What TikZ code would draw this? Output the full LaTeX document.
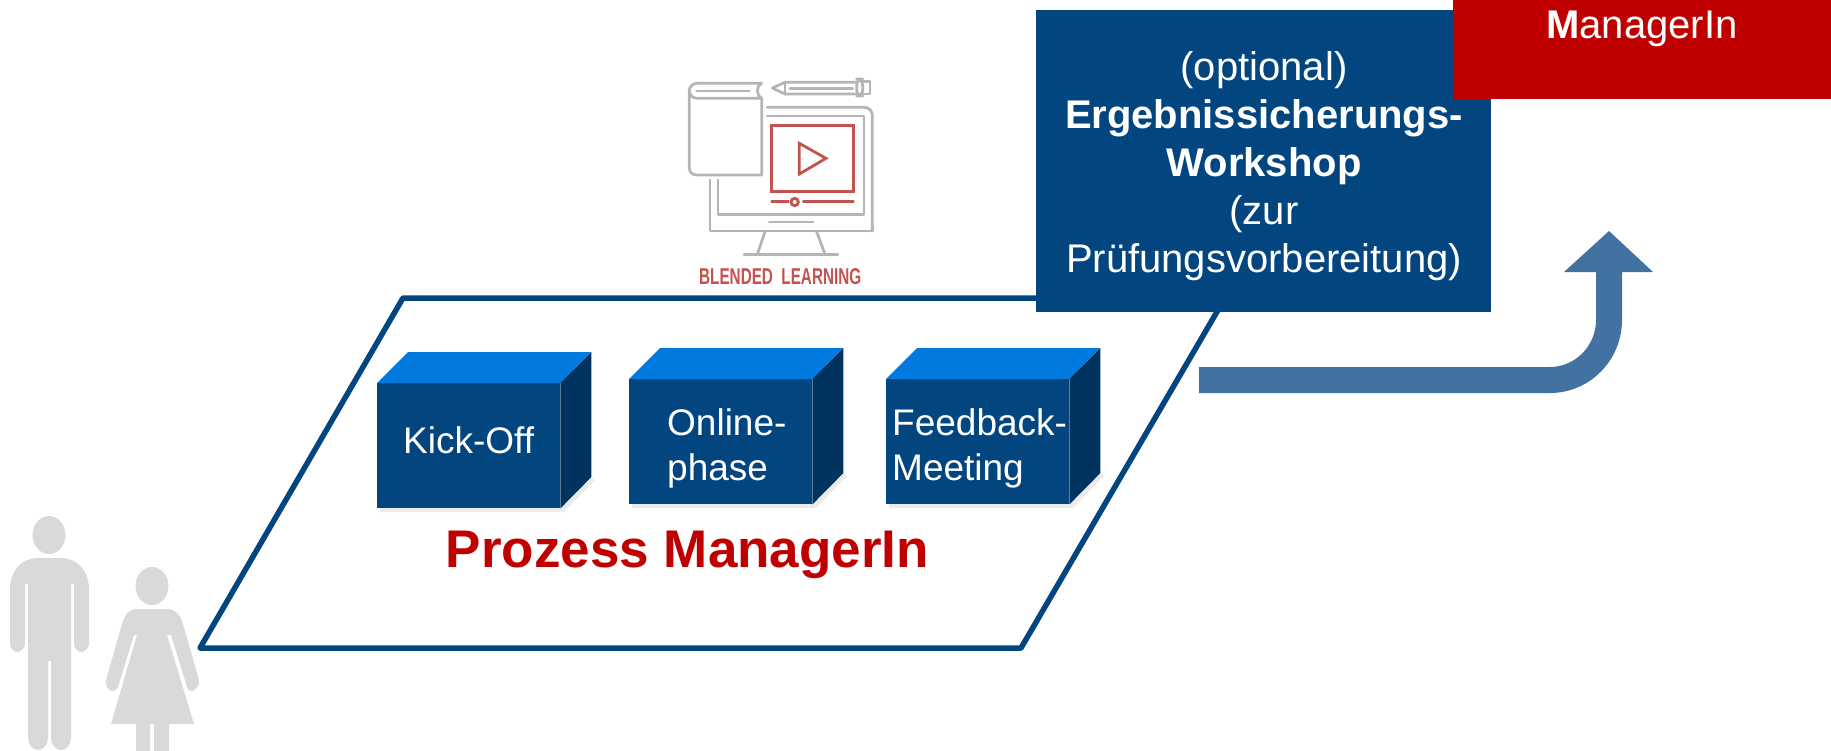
\documentclass[tikz,border=0pt]{standalone}
\usepackage{fontspec}
\setmainfont{Liberation Sans}
\definecolor{navy}{HTML}{03457F}
\definecolor{topblue}{HTML}{007ADF}
\definecolor{sideblue}{HTML}{00345F}
\definecolor{dred}{HTML}{C00000}
\definecolor{arrowblue}{HTML}{4272A1}
\definecolor{figgrey}{HTML}{D9D9D9}
\definecolor{icongrey}{HTML}{B5B5B5}
\definecolor{iconred}{HTML}{C4524F}
\tikzset{
  front/.style={fill=navy,inner sep=0pt,minimum width=183pt,minimum height=125pt},
  cubetop/.style={fill=topblue},
  cubeside/.style={fill=sideblue},
  cubeshadow/.style={fill=black!8},
  cubetext/.style={text=white,inner sep=0pt,align=left,anchor=base west,font=\fontsize{37}{45}\selectfont},
  bluetext/.style={text=white,inner sep=0pt,align=center,anchor=base,font=\fontsize{40}{47.9}\selectfont},
  greyline/.style={draw=icongrey,line width=2.8pt,line cap=round,line join=round},
  redline/.style={draw=iconred,line width=2.8pt,line cap=round,line join=miter},
}
\begin{document}
\begin{tikzpicture}[x=1pt,y=-1pt]
\useasboundingbox (0,0) rectangle (1831,750);
% platform
\draw[navy,line width=5.5pt,line join=round] (403,298) -- (200,648) -- (1021,648) -- (1225,298) -- cycle;
% cubes
\foreach \n/\xx/\yy/\dd in {k/377/383/31,o/629/379/31,f/886/379/31}{
  \pgfmathsetmacro{\xr}{\xx+183}
  \pgfmathsetmacro{\yb}{\yy+125}
  \fill[cubeshadow] (\xx+3,\yb) -- (\xr,\yb) -- (\xr+\dd,\yb-\dd) -- (\xr+\dd+4,\yb-\dd+3) -- (\xr+4,\yb+4) -- (\xx+3,\yb+4) -- cycle;
  \node[front,anchor=north west] (\n) at (\xx,\yy) {};
  \fill[cubetop] (\n.north west) -- ++(\dd,-\dd) -- ++(183,0) -- (\n.north east) -- cycle;
  \fill[cubeside] (\n.north east) -- ++(\dd,-\dd) -- ++(0,125) -- (\n.south east) -- cycle;
}
\node[cubetext] (kt) at (403,453) {Kick-Off};
\node[cubetext] (ot) at (667,480) {Online-\\phase};
\node[cubetext] (ft) at (892,480) {Feedback-\\Meeting};
\node[inner sep=0pt,anchor=base,text=dred,font=\fontsize{53}{60}\selectfont\bfseries] (pm) at (687.5,567) {Prozess ManagerIn};
% workshop box
\node[fill=navy,inner sep=0pt,minimum width=455pt,minimum height=302pt] (ws) at (1263.5,161) {};
\node[bluetext] (wt) at (1264,272) {(optional)\\\textbf{Ergebnissicherungs-}\\\textbf{Workshop}\\(zur\\Prüfungsvorbereitung)};
% red box
\node[fill=dred,inner sep=0pt,minimum width=378pt,minimum height=99pt] (rb) at (1642,49.5) {};
\node[bluetext] (rt) at (1642,38) {\textbf{M}anagerIn};
% arrow
\fill[arrowblue] (1199,367) -- (1550,367) .. controls (1575,367) and (1596,346) .. (1596,320) -- (1596,272) -- (1564,272) -- (1609,231) -- (1653,272) -- (1622,272) -- (1622,320) .. controls (1622,360) and (1590,393) .. (1550,393) -- (1199,393) -- cycle;
% man
\fill[figgrey] (49,535) ellipse [x radius=16.5pt,y radius=19pt];
\fill[figgrey] (10,590) .. controls (10,570) and (22,558) .. (38,558) -- (61,558) .. controls (77,558) and (89,570) .. (89,590) -- (89,644) .. controls (89,648) and (85,652) .. (81.5,652) .. controls (78,652) and (74,648) .. (74,644) -- (74,584) -- (71,584) -- (71,738) .. controls (71,745) and (66,750) .. (61,750) .. controls (56,750) and (51,745) .. (51,738) -- (51,661) -- (48,661) -- (48,738) .. controls (48,745) and (43,750) .. (38,750) .. controls (33,750) and (28,745) .. (28,738) -- (28,584) -- (25,584) -- (25,644) .. controls (25,648) and (21,652) .. (17.5,652) .. controls (14,652) and (10,648) .. (10,644) -- cycle;
% woman
\fill[figgrey] (152,586) ellipse [x radius=16.5pt,y radius=19pt];
\fill[figgrey] (137,609) -- (167,609) .. controls (175,609) and (180,614) .. (183,624) -- (199,680) .. controls (200,686) and (196,690) .. (192,691) .. controls (189,691) and (188,690) .. (187,687) -- (171,635) -- (167,635) -- (194,724) -- (169,724) -- (169,755) -- (154,755) -- (154,724) -- (150,724) -- (150,755) -- (136,755) -- (136,724) -- (111,724) -- (137,635) -- (134,635) -- (118,687) .. controls (117,690) and (115,691) .. (112,691) .. controls (108,690) and (105,686) .. (106,680) -- (122,624) .. controls (125,614) and (129,609) .. (137,609) -- cycle;
% icon
\begin{scope}[shift={(660,60)},x=0.33333pt,y=-0.33333pt]
  \draw[greyline] (305,70) -- (112,70) .. controls (97,70) and (88,80) .. (88,92) .. controls (88,104) and (97,115) .. (112,115) -- (305,115) -- (305,345) -- (110,345) .. controls (97,345) and (88,336) .. (88,325) -- (88,92);
  \draw[greyline] (305,70) .. controls (288,76) and (288,108) .. (305,115);
  \draw[greyline] (110,93) -- (268,93);
  \draw[greyline] (590,67) -- (375,67) -- (337,84) -- (375,102) -- (590,102);
  \draw[greyline] (375,67) -- (375,102);
  \draw[greyline] (390,85) -- (578,85);
  \draw[greyline,rounded corners=6pt] (590,57) rectangle (608,108);
  \draw[greyline] (608,65) -- (630,65) -- (630,102) -- (608,102);
  \draw[greyline,rounded corners=8pt] (322,142) -- (637,142) -- (637,513);
  \draw[greyline] (637,500) -- (637,513) -- (150,513) -- (150,360);
  \draw[greyline] (322,168) -- (612,168) -- (612,463) -- (174,463) -- (174,360);
  \draw[greyline] (328,486) -- (460,486);
  \draw[greyline] (315,515) -- (292,583);
  \draw[greyline] (470,515) -- (495,583);
  \draw[greyline] (252,583) -- (533,583);
  \draw[redline] (335,197) rectangle (580,395);
  \draw[redline] (418,250) -- (498,295) -- (418,342) -- cycle;
  \draw[redline] (335,425) -- (385,425);
  \draw[redline] (430,425) -- (580,425);
  \draw[redline] (404,426) circle [radius=3.7pt];
\end{scope}
\node[inner sep=0pt,anchor=south west,text=iconred] (bl) at (699,285.3) {\resizebox{162pt}{16pt}{\bfseries BLENDED\ \ LEARNING}};
\end{tikzpicture}
\end{document}
